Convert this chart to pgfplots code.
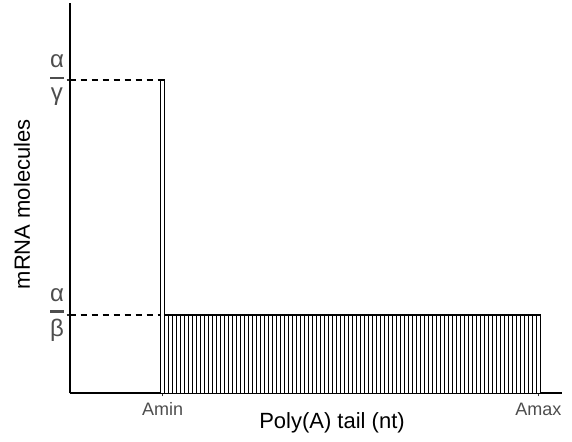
\documentclass[border=0pt]{standalone}
\usepackage{fontspec}
\setmainfont{Liberation Sans}
\usepackage{amsmath}
\usepackage{pgfplots}
\pgfplotsset{compat=1.18}
\definecolor{tickgray}{HTML}{4D4D4D}
\definecolor{tickmark}{HTML}{333333}
\newcommand{\fr}[2]{$\genfrac{}{}{1.1pt}{0}{\mbox{#1}}{\mbox{#2}}$}
\pgfplotstableread[row sep=\\]{
x y\\
0 4\\
1 1\\ 2 1\\ 3 1\\ 4 1\\ 5 1\\ 6 1\\ 7 1\\ 8 1\\ 9 1\\ 10 1\\
11 1\\ 12 1\\ 13 1\\ 14 1\\ 15 1\\ 16 1\\ 17 1\\ 18 1\\ 19 1\\ 20 1\\
21 1\\ 22 1\\ 23 1\\ 24 1\\ 25 1\\ 26 1\\ 27 1\\ 28 1\\ 29 1\\ 30 1\\
31 1\\ 32 1\\ 33 1\\ 34 1\\ 35 1\\ 36 1\\ 37 1\\ 38 1\\ 39 1\\ 40 1\\
41 1\\ 42 1\\ 43 1\\ 44 1\\ 45 1\\ 46 1\\ 47 1\\ 48 1\\ 49 1\\ 50 1\\
51 1\\ 52 1\\ 53 1\\ 54 1\\ 55 1\\ 56 1\\ 57 1\\ 58 1\\ 59 1\\ 60 1\\
61 1\\ 62 1\\ 63 1\\ 64 1\\ 65 1\\ 66 1\\ 67 1\\ 68 1\\ 69 1\\ 70 1\\
71 1\\ 72 1\\ 73 1\\ 74 1\\ 75 1\\ 76 1\\ 77 1\\ 78 1\\ 79 1\\ 80 1\\
81 1\\ 82 1\\ 83 1\\ 84 1\\ 85 1\\ 86 1\\ 87 1\\ 88 1\\ 89 1\\ 90 1\\
91 1\\ 92 1\\ 93 1\\ 94 1\\
}\bars
\begin{document}
\begin{tikzpicture}
\begin{axis}[
 name=main,
 scale only axis, width=246.15pt, height=195pt,
 xmin=-23.27, xmax=99.93, ymin=0, ymax=4.98,
 axis lines*=left,
 axis line style={black, line width=1.1pt},
 tick align=outside, major tick length=1.5pt,
 tick style={tickmark, line width=0.8pt},
 xtick={0,94}, xticklabels={Amin,Amax},
 ytick={1,4}, yticklabels={\fr{α}{β},\fr{α}{γ}},
 ticklabel style={font=\fontsize{9}{10}\selectfont, text=tickgray},
 xticklabel style={anchor=base, yshift=-9.6pt},
 yticklabel style={inner xsep=0pt, font=\fontsize{12}{14}\selectfont},
 xlabel={Poly(A) tail (nt)}, ylabel={mRNA molecules},
 label style={font=\fontsize{11}{13}\selectfont, text=black},
 xlabel style={at={(axis description cs:0.5328,0)}, anchor=base, yshift=-17.5pt},
 ylabel style={at={(axis description cs:-0.081,0.4846)}, anchor=base},
]
\addplot[black, line width=0.65pt, dash pattern=on 3pt off 2.5pt] coordinates {(-23.27,4) (-0.5,4)};
\addplot[black, line width=0.65pt, dash pattern=on 3pt off 2.5pt] coordinates {(-23.27,1) (-0.5,1)};
\addplot[ybar, bar width=1, bar shift=0, fill=white, draw=black, line width=0.8pt] table {\bars};
\end{axis}
\pgfresetboundingbox
\path ([shift={(-34.85pt,-23.85pt)}]main.south west) rectangle ([shift={(5pt,1.65pt)}]main.north east);
\end{tikzpicture}
\end{document}
